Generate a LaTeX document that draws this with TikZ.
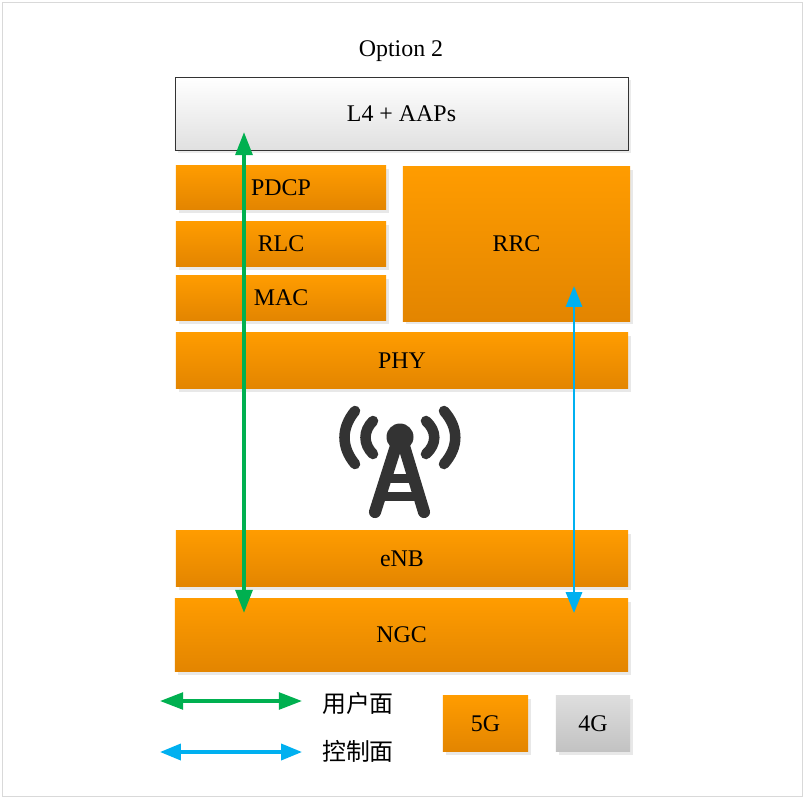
\documentclass[tikz,border=0pt]{standalone}
\usepackage{fontspec}
\setmainfont{Liberation Serif}
\newfontfamily\cjkfont{Noto Sans CJK SC}
\usepackage{xcolor}
\usetikzlibrary{arrows.meta,shadows}
\definecolor{orgT}{HTML}{FF9C00}
\definecolor{orgB}{HTML}{E38500}
\definecolor{usrG}{HTML}{00B050}
\definecolor{ctlB}{HTML}{00B0F0}
\definecolor{twrK}{HTML}{333333}

\begin{document}
\begin{tikzpicture}[x=0.025cm,y=-0.025cm, font=\fontsize{17}{20}\selectfont,
  shade5g/.style={inner sep=0pt, top color=orgT, bottom color=orgB, draw=none,
    drop shadow={shadow xshift=0.075cm, shadow yshift=-0.075cm, fill=black!9, opacity=1}},
  shade4g/.style={inner sep=0pt, top color=black!13, bottom color=black!24, draw=none,
    drop shadow={shadow xshift=0.075cm, shadow yshift=-0.075cm, fill=black!9, opacity=1}},
  shadeapp/.style={inner sep=0pt, top color=white, bottom color=black!12, draw=black!80, line width=0.5pt,
    drop shadow={shadow xshift=0.075cm, shadow yshift=-0.075cm, fill=black!8, opacity=1}},
  usrline/.style={{Triangle[length=0.58cm,width=0.42cm]}-{Triangle[length=0.58cm,width=0.42cm]}, line width=2.8pt, draw=usrG},
  ctlline/.style={{Triangle[length=0.52cm,width=0.4cm]}-{Triangle[length=0.52cm,width=0.4cm]}, line width=1.9pt, draw=ctlB},
  twrline/.style={line width=7.5pt, draw=twrK, line cap=round},
  ]

% === page and frame
\useasboundingbox (0,0) rectangle (804,798);
\fill[white] (0,0) rectangle (804,798);
\draw[line width=0.5pt, draw=black!15] (2,2) rectangle (802,796);

\node (title) at (401,51) {Option 2};

% === protocol stack
\node[shadeapp, minimum width=11.325cm, minimum height=1.825cm] (app) at (401.5,113.5) {L4 + AAPs};
\node[shade5g, minimum width=5.25cm, minimum height=1.1cm] (pdcp) at (281,187.5) {PDCP};
\node[shade5g, minimum width=5.25cm, minimum height=1.125cm] (rlc) at (281,244) {RLC};
\node[shade5g, minimum width=5.25cm, minimum height=1.125cm] (mac) at (281,298) {MAC};
\node[shade5g, minimum width=5.675cm, minimum height=3.85cm] (rrc) at (516.5,244) {RRC};
\node[shade5g, minimum width=11.3cm, minimum height=1.4cm] (phy) at (402,360.5) {PHY};
\node[shade5g, minimum width=11.3cm, minimum height=1.4cm] (enb) at (402,558.5) {eNB};
\node[shade5g, minimum width=11.325cm, minimum height=1.825cm] (ngc) at (401.5,635) {NGC};

% === legend boxes
\node[shade5g, minimum width=2.125cm, minimum height=1.4cm] (fiveg) at (485.5,723.5) {5G};
\node[shade4g, minimum width=1.85cm, minimum height=1.4cm] (fourg) at (593,723.5) {4G};
\node (usrtext) at (358,703) {\cjkfont 用户面};
\node (ctltext) at (358,751) {\cjkfont 控制面};

% === antenna tower
\fill[twrK] (400,437) circle (13.5);
\draw[twrline, line width=8.6pt] (396,446) -- (375,512);
\draw[twrline, line width=8.6pt] (404,446) -- (424,512);
\draw[twrline, line cap=butt, line width=6.4pt] (388,478) -- (412,478);
\draw[twrline, line cap=butt, line width=6.4pt] (383,496) -- (417,496);
\draw[twrline] (373,421) .. controls (363,431) and (363,444) .. (373,454);
\draw[twrline] (426,421) .. controls (437,431) and (437,444) .. (426,454);
\draw[twrline] (355,411) .. controls (341,428) and (341,447) .. (355,464);
\draw[twrline] (444,411) .. controls (459,428) and (459,447) .. (444,464);

% === plane arrows
\coordinate (usrtop) at (244,132);
\coordinate (usrbot) at (244,613);
\coordinate (ctltop) at (574,286);
\coordinate (ctlbot) at (574,613);
\coordinate (usrleft) at (160,701);
\coordinate (usrright) at (302,701);
\coordinate (ctlleft) at (160,752);
\coordinate (ctlright) at (302,752);
\draw[usrline] (usrtop) -- (usrbot);
\draw[ctlline] (ctltop) -- (ctlbot);
\draw[usrline, line width=2.4pt] (usrleft) -- (usrright);
\draw[ctlline, line width=2.4pt] (ctlleft) -- (ctlright);

\end{tikzpicture}
\end{document}
